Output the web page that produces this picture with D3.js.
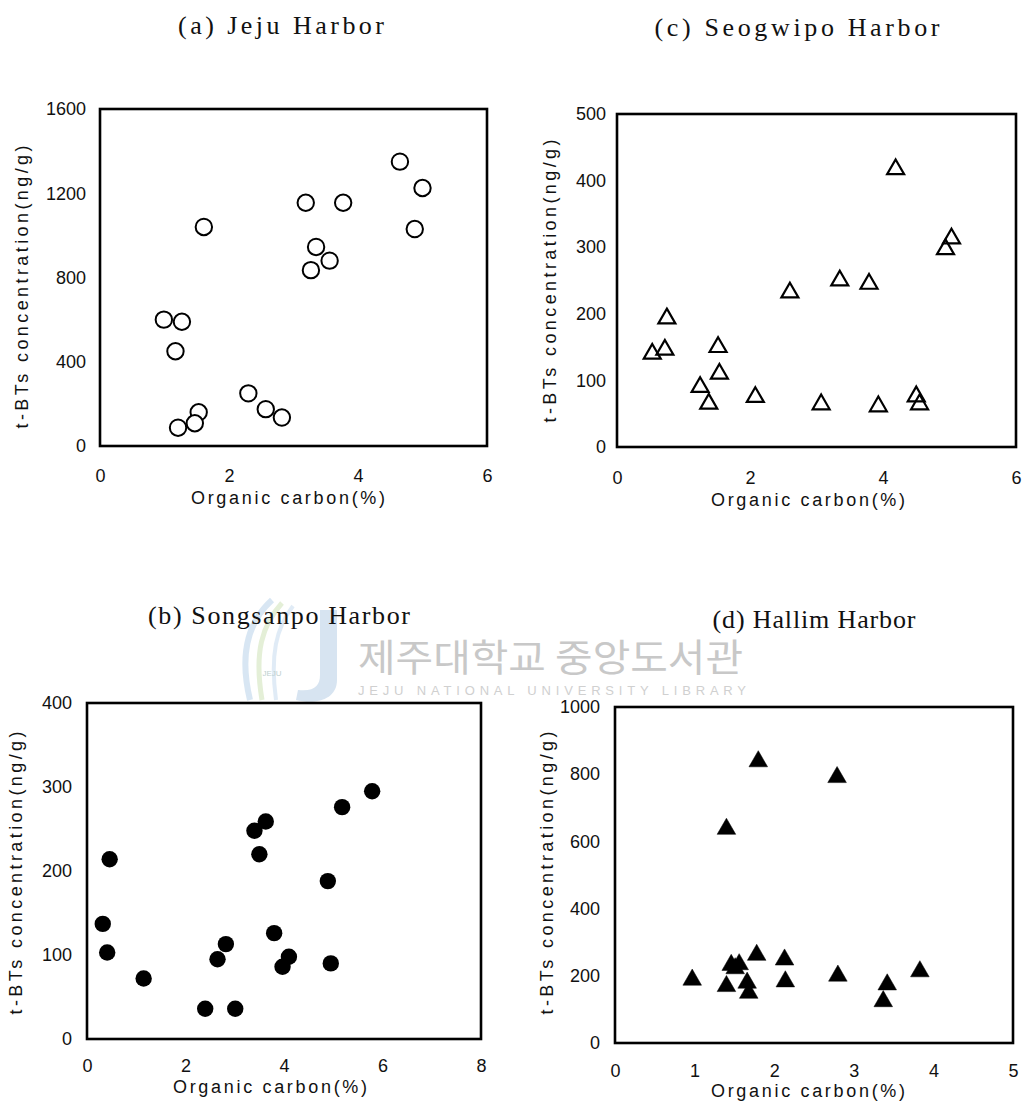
<!DOCTYPE html>
<html>
<head>
<meta charset="utf-8">
<script src="https://cdn.jsdelivr.net/npm/d3@7"></script>
<style>
  html, body { margin: 0; padding: 0; background: #fff; }
  svg { display: block; }
  .tick-label { font-family: "Liberation Sans", Arial, sans-serif; font-size: 18px; fill: #111; }
  .axis-title { font-family: "Liberation Sans", Arial, sans-serif; font-size: 18px; fill: #111; }
  .panel-title { font-family: "Liberation Serif", "DejaVu Serif", serif; font-size: 26px; fill: #111; }
</style>
</head>
<body>
<svg id="chart" width="1027" height="1102"></svg>
<script>
// (a) Jeju Harbor — organic carbon (%) vs t-BTs (ng/g)
const jejuOC  = [4.65, 5.00, 3.19, 3.77, 1.61, 4.88, 3.35, 3.56, 3.27, 0.99, 1.27, 1.17, 2.30, 2.57, 2.82, 1.53, 1.47, 1.21];
const jejuTBT = [1350, 1225, 1155, 1155, 1040, 1030, 945, 880, 835, 600, 590, 450, 250, 175, 135, 160, 108, 87];

// (c) Seogwipo Harbor
const seogwipoOC  = [4.19, 5.03, 4.94, 3.35, 3.79, 2.60, 0.75, 0.53, 0.72, 1.52, 1.54, 1.25, 1.38, 2.08, 3.07, 3.93, 4.50, 4.55];
const seogwipoTBT = [417, 313, 297, 250, 245, 232, 193, 140, 146, 150, 110, 90, 65, 75, 64, 61, 76, 64];

// (b) Songsanpo Harbor
const songsanpoOC  = [5.79, 5.18, 3.63, 3.40, 3.50, 0.46, 4.89, 0.32, 3.80, 2.82, 0.41, 2.65, 4.10, 3.97, 4.95, 1.15, 2.40, 3.01];
const songsanpoTBT = [295, 276, 259, 248, 220, 214, 188, 137, 126, 113, 103, 95, 98, 86, 90, 72, 36, 36];

// (d) Hallim Harbor
const hallimOC  = [1.80, 2.79, 1.40, 1.78, 2.13, 1.46, 1.56, 1.51, 3.83, 2.80, 0.97, 2.14, 1.66, 1.40, 3.42, 1.68, 3.37];
const hallimTBT = [838, 791, 637, 262, 248, 232, 234, 222, 213, 200, 188, 183, 179, 169, 174, 149, 124];

// Tick values per panel
const jejuXTicks = [0, 2, 4, 6];
const jejuYTicks = [0, 400, 800, 1200, 1600];
const seogwipoXTicks = [0, 2, 4, 6];
const seogwipoYTicks = [0, 100, 200, 300, 400, 500];
const songsanpoXTicks = [0, 2, 4, 6, 8];
const songsanpoYTicks = [0, 100, 200, 300, 400];
const hallimXTicks = [0, 1, 2, 3, 4, 5];
const hallimYTicks = [0, 200, 400, 600, 800, 1000];

const xTitle = "Organic carbon(%)";
const yTitle = "t-BTs concentration(ng/g)";

const svg = d3.select("#chart");

// Library watermark in the middle band
function drawWatermark() {
  const g = svg.append("g").attr("opacity", 0.55);
  // stylised swoosh logo
  g.append("path")
    .attr("d", "M272,600 C250,620 238,650 250,700")
    .attr("fill", "none").attr("stroke", "#b9d3ea").attr("stroke-width", 6);
  g.append("path")
    .attr("d", "M282,603 C262,625 254,652 262,700")
    .attr("fill", "none").attr("stroke", "#cfe3b8").attr("stroke-width", 5);
  g.append("path")
    .attr("d", "M293,606 C276,628 270,655 276,700")
    .attr("fill", "none").attr("stroke", "#c7dcef").attr("stroke-width", 4);
  g.append("path")
    .attr("d", "M320,610 L337,610 L337,680 C337,700 315,705 296,700 L298,690 C315,692 320,685 320,675 Z")
    .attr("fill", "#b7cfe6");
  g.append("text").attr("x", 272).attr("y", 676).attr("text-anchor", "middle")
    .attr("font-family", "Liberation Sans, sans-serif").attr("font-size", 8).attr("fill", "#8aa")
    .text("JEJU");
  svg.append("text")
    .attr("x", 358).attr("y", 671)
    .attr("font-family", "Noto Sans CJK KR, sans-serif")
    .attr("font-size", 38).attr("fill", "#c8c8c8")
    .attr("textLength", 385).attr("lengthAdjust", "spacingAndGlyphs")
    .text("제주대학교 중앙도서관");
  svg.append("text")
    .attr("x", 358).attr("y", 695)
    .attr("font-family", "Liberation Sans, sans-serif")
    .attr("font-size", 13).attr("fill", "#d0d0d0")
    .attr("textLength", 388).attr("lengthAdjust", "spacing")
    .text("JEJU NATIONAL UNIVERSITY LIBRARY");
}

function drawPanel(cfg) {
  const g = svg.append("g");
  const x = d3.scaleLinear().domain(cfg.xDomain).range([cfg.left, cfg.right]);
  const y = d3.scaleLinear().domain(cfg.yDomain).range([cfg.bottom, cfg.top]);

  // title
  g.append("text").attr("class", "panel-title")
    .attr("x", cfg.titleX).attr("y", cfg.titleY)
    .attr("text-anchor", "middle")
    .attr("textLength", cfg.titleWidth).attr("lengthAdjust", "spacing")
    .text(cfg.title);

  // axis tick labels via d3 axes (tick lines hidden)
  const xAxis = d3.axisBottom(x).tickValues(cfg.xTicks).tickSize(0).tickPadding(0).tickFormat(d3.format("d"));
  const yAxis = d3.axisLeft(y).tickValues(cfg.yTicks).tickSize(0).tickPadding(0).tickFormat(d3.format("d"));

  const gx = g.append("g").attr("transform", `translate(0,${cfg.bottom + cfg.xLabelOffset})`).call(xAxis);
  gx.select(".domain").remove();
  gx.selectAll("text").attr("class", "tick-label").attr("font-size", null).attr("font-family", null).attr("fill", null).attr("dy", "0.35em").attr("y", 0);

  const gy = g.append("g").attr("transform", `translate(${cfg.left - cfg.yLabelOffset},0)`).call(yAxis);
  gy.select(".domain").remove();
  gy.selectAll("text").attr("class", "tick-label").attr("font-size", null).attr("font-family", null).attr("fill", null).attr("x", 0);

  // frame
  g.append("rect")
    .attr("x", cfg.left).attr("y", cfg.top)
    .attr("width", cfg.right - cfg.left).attr("height", cfg.bottom - cfg.top)
    .attr("fill", "none").attr("stroke", "#000").attr("stroke-width", 2.6);

  // axis titles
  g.append("text").attr("class", "axis-title")
    .attr("x", cfg.xTitleX).attr("y", cfg.xTitleY)
    .attr("text-anchor", "middle")
    .attr("textLength", 194).attr("lengthAdjust", "spacing")
    .text(xTitle);
  g.append("text").attr("class", "axis-title")
    .attr("transform", `translate(${cfg.yTitleX},${cfg.yTitleY}) rotate(-90)`)
    .attr("text-anchor", "middle")
    .attr("textLength", 283).attr("lengthAdjust", "spacing")
    .text(yTitle);

  // markers
  const pts = cfg.xs.map((v, i) => ({ oc: v, tbt: cfg.ys[i] }));
  const m = g.append("g");
  if (cfg.marker === "circle") {
    m.selectAll("circle").data(pts).join("circle")
      .attr("cx", d => x(d.oc)).attr("cy", d => y(d.tbt))
      .attr("r", 8.2)
      .attr("fill", cfg.filled ? "#000" : "#fff")
      .attr("stroke", "#000").attr("stroke-width", cfg.filled ? 0 : 2);
  } else {
    const tri = d3.symbol(d3.symbolTriangle).size(cfg.filled ? 150 : 125);
    m.selectAll("path").data(pts).join("path")
      .attr("d", tri)
      .attr("transform", d => `translate(${x(d.oc)},${y(d.tbt)})`)
      .attr("fill", cfg.filled ? "#000" : "none")
      .attr("stroke", "#000").attr("stroke-width", cfg.filled ? 0.5 : 2.2)
      .attr("stroke-linejoin", "miter");
  }
}

drawWatermark();

drawPanel({
  title: "(a) Jeju Harbor", titleX: 281, titleY: 34, titleWidth: 206,
  left: 100, right: 487, top: 109, bottom: 446,
  xDomain: [0, 6], yDomain: [0, 1600], xTicks: jejuXTicks, yTicks: jejuYTicks,
  xLabelOffset: 30, yLabelOffset: 14,
  xTitleX: 288, xTitleY: 504, yTitleX: 28, yTitleY: 287,
  xs: jejuOC, ys: jejuTBT, marker: "circle", filled: false
});

drawPanel({
  title: "(c) Seogwipo Harbor", titleX: 797, titleY: 36, titleWidth: 285,
  left: 617, right: 1016, top: 114, bottom: 447,
  xDomain: [0, 6], yDomain: [0, 500], xTicks: seogwipoXTicks, yTicks: seogwipoYTicks,
  xLabelOffset: 31, yLabelOffset: 11,
  xTitleX: 808, xTitleY: 506, yTitleX: 556, yTitleY: 281,
  xs: seogwipoOC, ys: seogwipoTBT, marker: "triangle", filled: false
});

drawPanel({
  title: "(b) Songsanpo Harbor", titleX: 279, titleY: 624, titleWidth: 262,
  left: 87, right: 481, top: 703, bottom: 1039,
  xDomain: [0, 8], yDomain: [0, 400], xTicks: songsanpoXTicks, yTicks: songsanpoYTicks,
  xLabelOffset: 27, yLabelOffset: 15,
  xTitleX: 270, xTitleY: 1093, yTitleX: 22, yTitleY: 873,
  xs: songsanpoOC, ys: songsanpoTBT, marker: "circle", filled: true
});

drawPanel({
  title: "(d) Hallim Harbor", titleX: 814, titleY: 628, titleWidth: 203,
  left: 615, right: 1013, top: 707, bottom: 1043,
  xDomain: [0, 5], yDomain: [0, 1000], xTicks: hallimXTicks, yTicks: hallimYTicks,
  xLabelOffset: 28, yLabelOffset: 15,
  xTitleX: 808, xTitleY: 1097, yTitleX: 553, yTitleY: 873,
  xs: hallimOC, ys: hallimTBT, marker: "triangle", filled: true
});
</script>
</body>
</html>
